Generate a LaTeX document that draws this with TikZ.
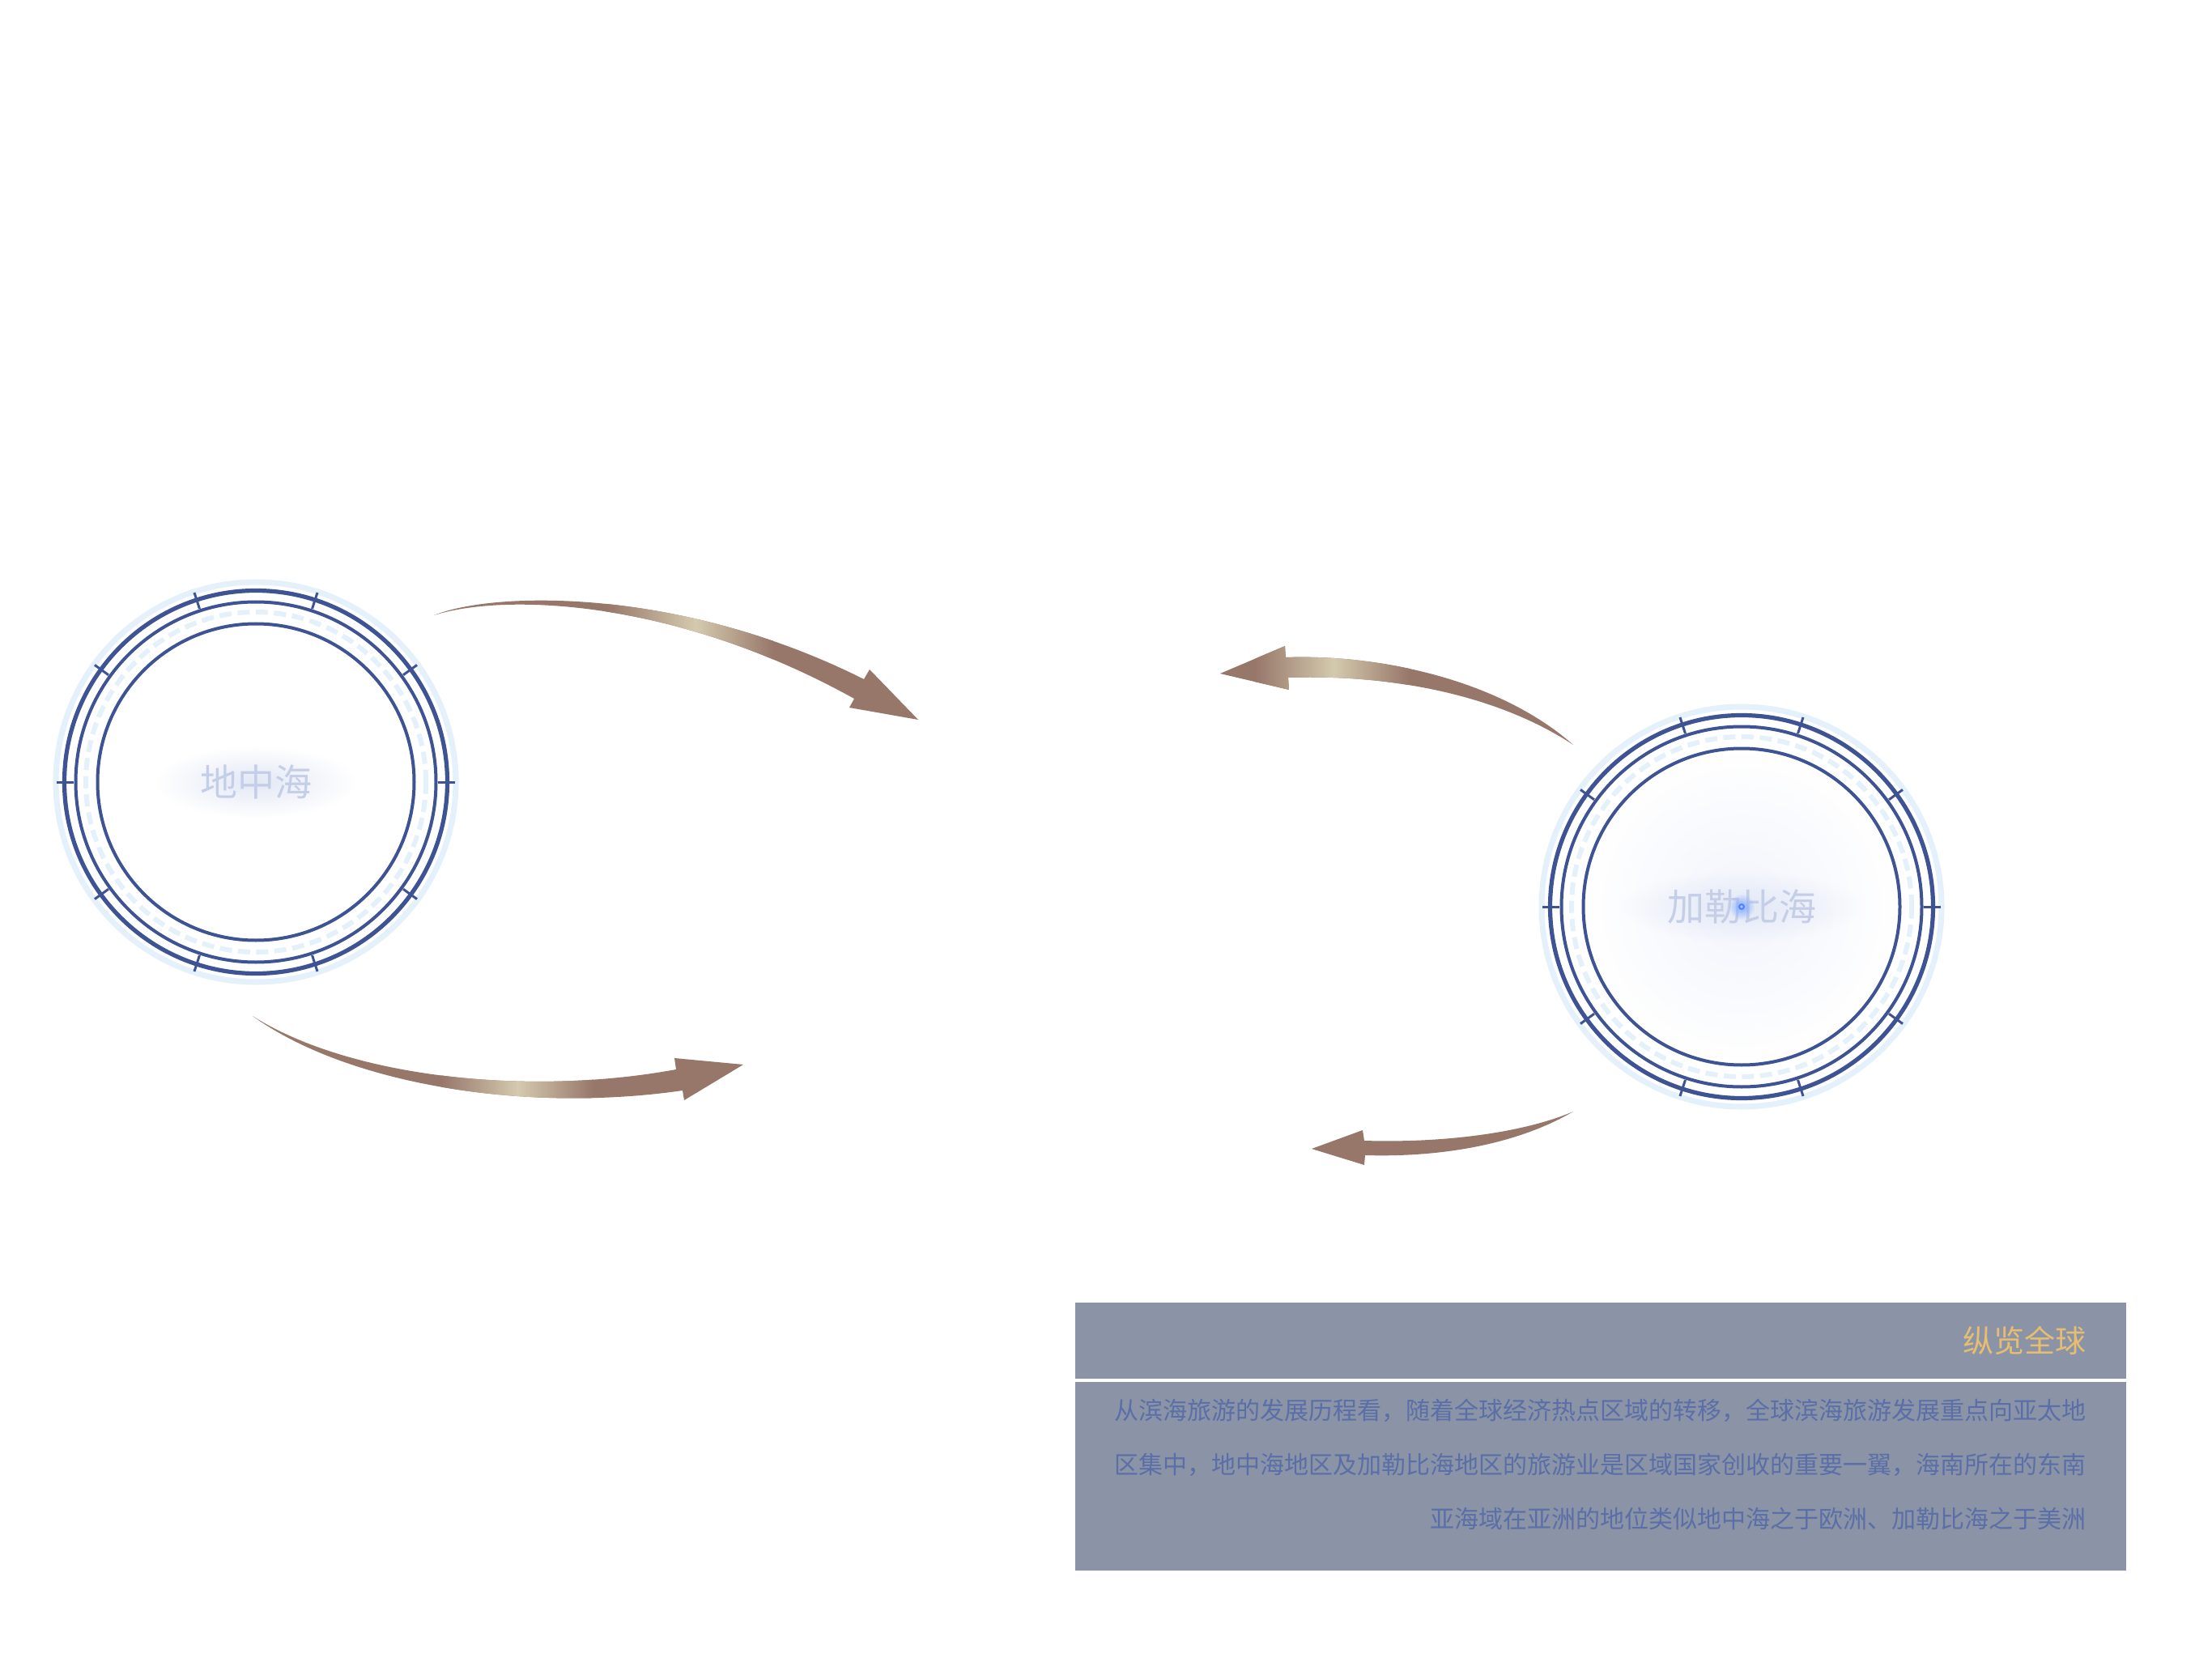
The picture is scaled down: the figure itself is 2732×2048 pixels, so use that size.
\documentclass[tikz,border=0pt]{standalone}
\usepackage{fontspec}
\newfontfamily\cjk{Noto Sans CJK SC}
\usetikzlibrary{calc,fadings}
\definecolor{ringblue}{HTML}{3E5393}
\definecolor{ringlight}{HTML}{E4F1FB}
\definecolor{arrbrown}{HTML}{97776A}
\definecolor{arrlight}{HTML}{D4CAAE}
\definecolor{boxfill}{HTML}{8B93A6}
\definecolor{boxtext}{HTML}{5A6EA8}
\definecolor{titlegold}{HTML}{E6BE72}
\definecolor{seatext}{HTML}{C4CEE7}
\definecolor{glowc}{HTML}{E3E8F6}
\definecolor{glowblue}{HTML}{F2F5FD}
\definecolor{dotblue}{HTML}{4D86FF}
\tikzfading[name=glowfade, inner color=transparent!0, outer color=transparent!100]
\newcommand\seaRing[1]{%
  \draw[ringlight, line width=3.5pt] (#1) circle[radius=123.5pt];
  \draw[ringlight, line width=3pt, dash pattern=on 7.5pt off 3.75pt] (#1) circle[radius=105pt];
  \draw[ringblue, line width=2.6pt] (#1) circle[radius=118.25pt];
  \draw[ringblue, line width=2pt] (#1) circle[radius=111.25pt];
  \draw[ringblue, line width=2pt] (#1) circle[radius=97.75pt];
  \foreach \a in {0,36,...,324}
    \draw[ringblue, line width=1.5pt] ($(#1)+(\a:112.5pt)$) -- ($(#1)+(\a:123pt)$);
}
\tikzset{
  sealabel/.style={text=seatext, inner sep=0pt, font=\cjk\fontsize{23pt}{23pt}\selectfont},
  bodyline/.style={anchor=east, text=boxtext, inner sep=0pt, font=\cjk\fontsize{15pt}{15pt}\selectfont},
  titletext/.style={anchor=east, text=titlegold, inner sep=0pt, font=\cjk\fontsize{19pt}{19pt}\selectfont},
  glow/.style={fill=#1, path fading=glowfade}
}
\begin{document}
\begin{tikzpicture}[x=0.5pt,y=-0.5pt]
\useasboundingbox (0,0) rectangle (2732,2048);
\fill[white] (0,0) rectangle (2732,2048);

% circle centres
\coordinate (cL) at (316,966);
\coordinate (cR) at (2151,1120);

% glows
\fill[glow=glowc] (cL) ellipse[x radius=62pt, y radius=22pt];
\fill[glow=glowblue] (cR) circle[radius=95pt];
\fill[glow=glowc] (cR) ellipse[x radius=75pt, y radius=22pt];

\seaRing{cL}
\seaRing{cR}

\node[sealabel] (med) at (cL) {地中海};
\node[sealabel] (car) at (cR) {加勒比海};
\fill[glow=dotblue!70] (cR) circle[radius=8pt];
\fill[dotblue] (cR) circle[radius=2pt];
\fill[white!55!dotblue] (cR) circle[radius=0.9pt];

% arrow A (top left, to the right)
\coordinate (aT) at (536,760);
\coordinate (aU) at (1067,839);
\coordinate (aH1) at (1074,827);
\coordinate (aTip) at (1134,889);
\coordinate (aH2) at (1049,874);
\coordinate (aL) at (1055,863);
\newcommand\arrowApath{(aT) .. controls (610,730) and (840,725) .. (aU) -- (aH1) -- (aTip) -- (aH2) -- (aL) .. controls (830,738) and (620,733) .. (aT) -- cycle}
\fill[arrbrown] \arrowApath;
\begin{scope}
\clip \arrowApath;
\shade[left color=arrbrown, right color=arrlight] (748,700) rectangle (860,900);
\shade[left color=arrlight, right color=arrbrown] (859,700) rectangle (955,900);
\end{scope}

% arrow B (bottom left, to the right)
\coordinate (bT) at (312,1255);
\coordinate (bU) at (835,1321);
\coordinate (bH1) at (833,1307);
\coordinate (bTip) at (918,1315);
\coordinate (bH2) at (845,1359);
\coordinate (bL) at (843,1347);
\newcommand\arrowBpath{(bT) .. controls (430,1330) and (650,1355) .. (bU) -- (bH1) -- (bTip) -- (bH2) -- (bL) .. controls (650,1375) and (430,1340) .. (bT) -- cycle}
\fill[arrbrown] \arrowBpath;
\begin{scope}
\clip \arrowBpath;
\shade[left color=arrbrown, right color=arrlight] (545,1280) rectangle (640,1400);
\shade[left color=arrlight, right color=arrbrown] (639,1280) rectangle (733,1400);
\end{scope}

% arrow C (top right, to the left)
\coordinate (cT) at (1943,920);
\coordinate (cU) at (1588,812);
\coordinate (cH1) at (1587,798);
\coordinate (cTip) at (1507,832);
\coordinate (cH2) at (1592,852);
\coordinate (cLo) at (1591,837);
\newcommand\arrowCpath{(cT) .. controls (1850,838) and (1700,808) .. (cU) -- (cH1) -- (cTip) -- (cH2) -- (cLo) .. controls (1700,833) and (1840,852) .. (cT) -- cycle}
\fill[arrbrown] \arrowCpath;
\begin{scope}
\clip \arrowCpath;
\shade[left color=arrbrown, right color=arrlight] (1550,780) rectangle (1648,900);
\shade[left color=arrlight, right color=arrbrown] (1647,780) rectangle (1740,900);
\end{scope}

% arrow D (bottom right, to the left)
\coordinate (dT) at (1943,1373);
\coordinate (dU) at (1685,1409);
\coordinate (dH1) at (1683,1396);
\coordinate (dTip) at (1620,1419);
\coordinate (dH2) at (1685,1439);
\coordinate (dL) at (1686,1427);
\fill[arrbrown] (dT) .. controls (1880,1400) and (1780,1412) .. (dU) -- (dH1) -- (dTip) -- (dH2) -- (dL) .. controls (1790,1430) and (1880,1410) .. (dT) -- cycle;

% text box
\fill[boxfill] (1328,1609) rectangle (2626,1703);
\fill[boxfill] (1328,1707) rectangle (2626,1940);
\node[titletext] (title) at (2577,1656) {纵览全球};
\node[bodyline] (l1) at (2577,1742) {从滨海旅游的发展历程看，随着全球经济热点区域的转移，全球滨海旅游发展重点向亚太地};
\node[bodyline] (l2) at (2577,1809) {区集中，地中海地区及加勒比海地区的旅游业是区域国家创收的重要一翼，海南所在的东南};
\node[bodyline] (l3) at (2577,1876) {亚海域在亚洲的地位类似地中海之于欧洲、加勒比海之于美洲};
\end{tikzpicture}
\end{document}
